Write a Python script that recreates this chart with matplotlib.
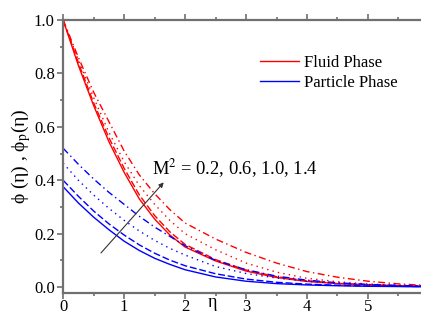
import matplotlib
matplotlib.use("Agg")
import matplotlib.pyplot as plt
from matplotlib.ticker import MultipleLocator

eta = [0, 0.25, 0.5, 0.75, 1.0, 1.25, 1.5, 1.75, 2.0, 2.5, 3.0, 3.5, 4.0, 4.5, 5.0, 5.5, 5.9]

fluid_02 = [1.0, 0.83, 0.68, 0.545, 0.43, 0.33, 0.255, 0.195, 0.15, 0.098, 0.06, 0.036, 0.021, 0.013, 0.008, 0.005, 0.003]
fluid_06 = [1.0, 0.84, 0.69, 0.56, 0.445, 0.345, 0.268, 0.207, 0.16, 0.103, 0.064, 0.039, 0.024, 0.014, 0.009, 0.005, 0.003]
fluid_10 = [1.0, 0.85, 0.71, 0.58, 0.47, 0.38, 0.31, 0.25, 0.20, 0.14, 0.09, 0.056, 0.033, 0.02, 0.012, 0.007, 0.004]
fluid_14 = [1.0, 0.86, 0.73, 0.62, 0.51, 0.42, 0.35, 0.29, 0.24, 0.18, 0.13, 0.09, 0.058, 0.037, 0.022, 0.012, 0.007]

part_02 = [0.376, 0.315, 0.262, 0.215, 0.172, 0.137, 0.108, 0.085, 0.065, 0.038, 0.022, 0.013, 0.008, 0.005, 0.003, 0.002, 0.001]
part_06 = [0.40, 0.34, 0.285, 0.237, 0.195, 0.158, 0.127, 0.101, 0.08, 0.05, 0.03, 0.018, 0.011, 0.007, 0.004, 0.003, 0.002]
part_10 = [0.464, 0.40, 0.345, 0.295, 0.25, 0.21, 0.175, 0.145, 0.12, 0.077, 0.051, 0.034, 0.022, 0.014, 0.009, 0.006, 0.004]
part_14 = [0.52, 0.46, 0.405, 0.355, 0.31, 0.265, 0.225, 0.19, 0.155, 0.10, 0.065, 0.041, 0.026, 0.016, 0.01, 0.006, 0.004]

fluid = [fluid_02, fluid_06, fluid_10, fluid_14]
particle = [part_02, part_06, part_10, part_14]
styles = ['-', (0, (5, 2)), (0, (1, 3)), (0, (5, 2.5, 1, 2.5))]

serif = ['Liberation Serif', 'DejaVu Serif']
plt.rcParams['font.family'] = serif
plt.rcParams['mathtext.fontset'] = 'stix'

fig = plt.figure(figsize=(4.21, 3.14), dpi=100)
ax = fig.add_axes([0.15, 0.067, 0.85, 0.869])

for ys, ls in zip(fluid, styles):
    ax.plot(eta, ys, color='#ff0000', lw=1.0, ls=ls)
for ys, ls in zip(particle, styles):
    ax.plot(eta, ys, color='#0000ff', lw=1.0, ls=ls)

ax.set_xlim(0, 5.87)
ax.set_ylim(-0.022, 1.0)
ax.xaxis.set_major_locator(MultipleLocator(1))
ax.xaxis.set_minor_locator(MultipleLocator(0.5))
ax.yaxis.set_major_locator(MultipleLocator(0.2))
ax.yaxis.set_minor_locator(MultipleLocator(0.1))
ax.yaxis.set_major_formatter(matplotlib.ticker.FormatStrFormatter('%.1f'))

spine_c = '#707070'
for s in ['left', 'bottom', 'top']:
    ax.spines[s].set_color(spine_c)
    ax.spines[s].set_linewidth(1.6)
ax.spines['right'].set_visible(False)

ax.tick_params(which='both', direction='out', top=True, color=spine_c, width=1.2,
               labelsize=12, labelcolor='black')
ax.tick_params(axis='x', pad=0.5)
ax.tick_params(axis='y', pad=2)
ax.tick_params(which='major', length=4)
ax.tick_params(which='minor', length=2.5)

ax.set_ylabel('ϕ (η) , ϕ$_\\mathrm{p}$(η)', fontsize=14, labelpad=1)
ax.text(2.45, -0.05, 'η', transform=ax.get_xaxis_transform(), ha='center', va='baseline', fontsize=13)

# legend
ax.plot([], [], color='#ff0000', lw=1.0, label='Fluid Phase')
ax.plot([], [], color='#0000ff', lw=1.0, label='Particle Phase')
handles = ax.get_lines()[-2:]
ax.legend(handles=handles, loc='upper left', bbox_to_anchor=(0.518, 0.915), frameon=False,
          fontsize=12, handlelength=2.3, handletextpad=0.35, labelspacing=0.25, borderpad=0.2)

ax.annotate('', xy=(1.68, 0.40), xytext=(0.59, 0.12),
            arrowprops=dict(arrowstyle='-|>', color='#333333', lw=0.8, mutation_scale=7))
ax.text(1.46, 0.445, 'M$^2$ = 0.2, 0.6, 1.0, 1.4', fontsize=13.3, va='center', ha='left')

fig.savefig('out.png', dpi=100)
